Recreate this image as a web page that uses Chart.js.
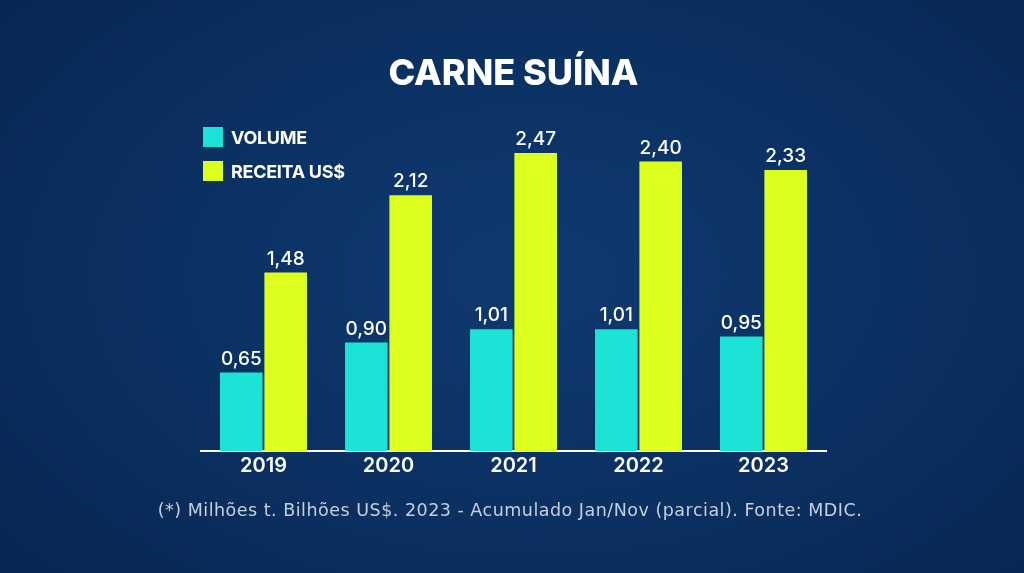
<!DOCTYPE html>
<html lang="pt-BR">
<head>
<meta charset="utf-8">
<title>Carne suína</title>
<script src="https://cdn.jsdelivr.net/npm/chart.js@4/dist/chart.umd.min.js"></script>
<style>
  html, body { margin: 0; padding: 0; }
  body {
    width: 1024px; height: 573px; overflow: hidden; position: relative;
    background: radial-gradient(ellipse 75% 85% at 52% 48%, #0f3a70 0%, #0b3163 45%, #07244e 100%);
  }
  #wrap { position: absolute; left: 0; top: 0; width: 1024px; height: 573px; }
  #legend { position: absolute; left: 203px; top: 127px; font-family: Inter, "Open Sans", sans-serif; }
  #legend .item { display: flex; align-items: center; height: 20px; margin-bottom: 14px;
    color: #fff; font-weight: 700; font-size: 18px; letter-spacing: -0.3px; }
  #legend .box { width: 20px; height: 20px; margin-right: 8px; }
  #note { position: absolute; left: 0; width: 1020px; top: 498px; text-align: center;
    font-family: "DejaVu Sans", sans-serif; font-size: 17.5px; line-height: 24px;
    letter-spacing: 0.5px; color: #c5d0e0; white-space: nowrap; }
</style>
</head>
<body>
<div id="wrap"><canvas id="chart" width="1024" height="573"></canvas></div>
<div id="legend"></div>
<div id="note">(*) Milhões t. Bilhões US$. 2023 - Acumulado Jan/Nov (parcial). Fonte: MDIC.</div>
<script>
// values (milhões t / bilhões US$)
const years = ['2019', '2020', '2021', '2022', '2023'];
const volume = [0.65, 0.90, 1.01, 1.01, 0.95];
const receita = [1.48, 2.12, 2.47, 2.40, 2.33];

const seriesNames = ['VOLUME', 'RECEITA US$'];
const seriesColors = ['#1de3d6', '#dcff1f'];

function fmt(v) {
    return v.toFixed(2).replace('.', ',');
}

// value labels above each bar
const valueLabels = {
    id: 'valueLabels',
    afterDatasetsDraw(chart) {
        const ctx = chart.ctx;
        ctx.save();
        ctx.fillStyle = '#ffffff';
        ctx.font = '500 19px Inter, "Open Sans", sans-serif';
        ctx.textAlign = 'center';
        ctx.textBaseline = 'bottom';
        chart.data.datasets.forEach((ds, i) => {
            chart.getDatasetMeta(i).data.forEach((bar, j) => {
                ctx.fillText(fmt(ds.data[j]), bar.x, bar.y - 4);
            });
        });
        ctx.restore();
    }
};

const chart = new Chart(document.getElementById('chart'), {
    type: 'bar',
    data: {
        labels: years,
        datasets: [
            { label: seriesNames[0], data: volume, backgroundColor: seriesColors[0] },
            { label: seriesNames[1], data: receita, backgroundColor: seriesColors[1] }
        ]
    },
    options: {
        responsive: false,
        animation: false,
        layout: { padding: { left: 201, right: 198, top: 0, bottom: 92 } },
        datasets: { bar: { categoryPercentage: 0.71, barPercentage: 0.96 } },
        scales: {
            x: {
                grid: { display: false, drawTicks: false },
                border: { display: true, color: '#ffffff', width: 2 },
                ticks: {
                    color: '#ffffff',
                    padding: 3,
                    font: { family: 'Inter, "Open Sans", sans-serif', size: 20, weight: '600' }
                }
            },
            y: {
                display: false,
                min: 0,
                max: 2.8
            }
        },
        plugins: {
            legend: { display: false },
            tooltip: { enabled: false },
            title: {
                display: true,
                text: 'CARNE SUÍNA',
                color: '#ffffff',
                padding: { top: 53, bottom: 17 },
                font: { family: 'Inter, "Open Sans", sans-serif', size: 36, weight: '800' }
            }
        }
    },
    plugins: [valueLabels]
});

// legend built from the datasets
const legendDiv = document.getElementById('legend');
chart.data.datasets.forEach(ds => {
    legendDiv.innerHTML += `<div class="item"><span class="box" style="background:${ds.backgroundColor}"></span>${ds.label}</div>`;
});
</script>
</body>
</html>
